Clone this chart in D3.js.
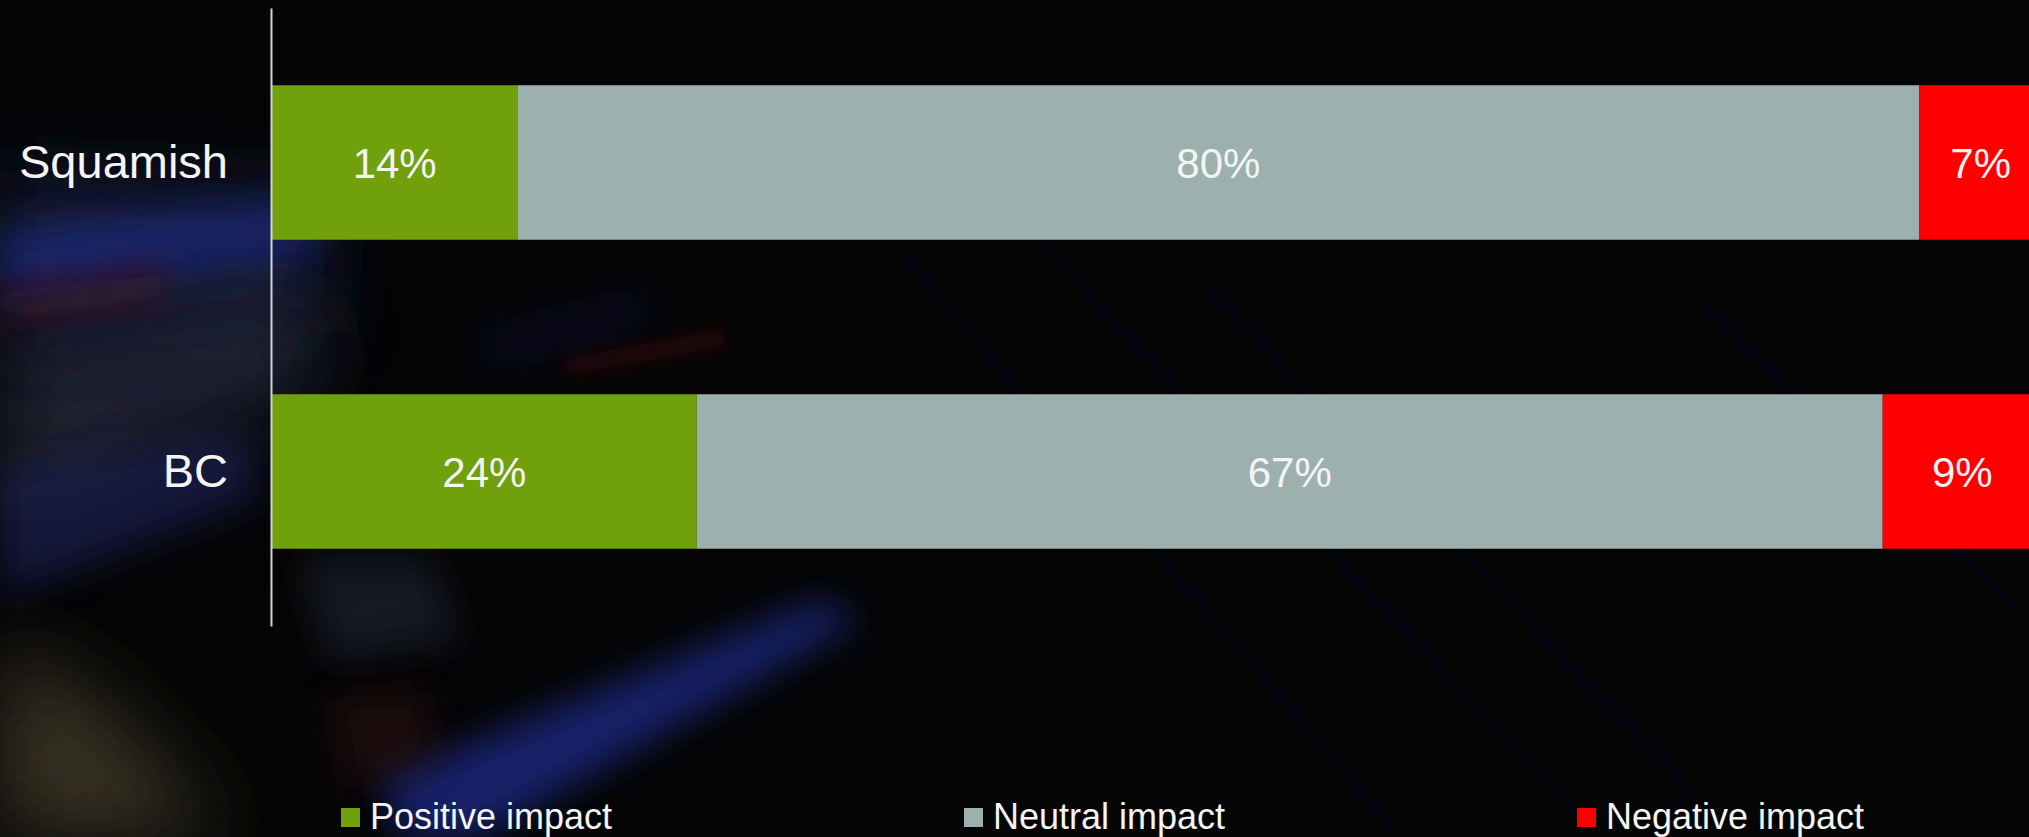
<!DOCTYPE html>
<html>
<head>
<meta charset="utf-8">
<script src="https://cdn.jsdelivr.net/npm/d3@7"></script>
<style>
  html, body { margin: 0; padding: 0; background: #050506; overflow: hidden; }
  svg { display: block; }
  text { font-family: "Liberation Sans", Arial, sans-serif; }
</style>
</head>
<body>
<svg id="chart" width="2029" height="837"></svg>
<script>
// ---- data ----
const categories = ["Squamish", "BC"];
const seriesNames = ["Positive impact", "Neutral impact", "Negative impact"];
const positiveImpact = [14, 24];
const neutralImpact = [80, 67];
const negativeImpact = [7, 9];
const seriesColors = ["#70a00b", "#9cb0ae", "#ff0000"];

// ---- layout ----
const W = 2029, H = 837;
const svg = d3.select("#chart");
const defs = svg.append("defs");
[["blur40", 40], ["blur18", 18], ["blur8", 8]].forEach(([id, s]) => {
  defs.append("filter").attr("id", id).attr("x", "-50%").attr("y", "-50%").attr("width", "200%").attr("height", "200%")
    .append("feGaussianBlur").attr("stdDeviation", s);
});

// background photo-like haze
svg.append("rect").attr("width", W).attr("height", H).attr("fill", "#050506");
const bg = svg.append("g");
const haze = [
  {pts: [[0,170],[330,190],[320,330],[0,360]], fill: "#141a3a", f: "blur40", o: 0.9},
  {pts: [[0,230],[310,200],[320,250],[0,300]], fill: "#1c2a80", f: "blur18", o: 0.7},
  {pts: [[0,290],[170,270],[160,300],[0,320]], fill: "#5a1010", f: "blur18", o: 0.6},
  {pts: [[0,360],[300,300],[330,380],[0,520]], fill: "#262c3e", f: "blur40", o: 0.8},
  {pts: [[0,470],[250,430],[260,500],[0,600]], fill: "#1a2258", f: "blur18", o: 0.6},
  {pts: [[0,640],[100,700],[230,837],[0,837]], fill: "#3e3828", f: "blur40", o: 0.9},
  {pts: [[300,560],[430,560],[460,640],[330,660]], fill: "#222838", f: "blur18", o: 0.6},
  {pts: [[380,780],[820,600],[860,620],[480,837],[400,837]], fill: "#1d2a8a", f: "blur18", o: 0.75},
  {pts: [[330,700],[420,690],[440,760],[350,790]], fill: "#3a1414", f: "blur18", o: 0.45},
  {pts: [[560,360],[720,330],[730,345],[570,375]], fill: "#4a0c0c", f: "blur8", o: 0.5},
  {pts: [[480,340],[640,300],[650,320],[490,360]], fill: "#141c60", f: "blur18", o: 0.45}
];
bg.selectAll("path").data(haze).join("path")
  .attr("d", d => d3.line()(d.pts) + "Z")
  .attr("fill", d => d.fill)
  .attr("opacity", d => d.o)
  .attr("filter", d => `url(#${d.f})`);

// very faint diagonal streaks on the right
const streaks = [[[900,250],[1400,837]], [[1000,200],[1600,837]], [[1200,280],[1700,800]], [[1700,300],[2029,620]]];
bg.selectAll("line.streak").data(streaks).join("line")
  .attr("class", "streak")
  .attr("x1", d => d[0][0]).attr("y1", d => d[0][1])
  .attr("x2", d => d[1][0]).attr("y2", d => d[1][1])
  .attr("stroke", "#0d0e12").attr("stroke-width", 6).attr("filter", "url(#blur8)");

// ---- scales ----
const x = d3.scaleLinear().domain([0, 1]).range([272, 2042]);
const y = d3.scaleBand().domain(categories).range([8, 626]).paddingInner(0.5).paddingOuter(0.25);

// build rows (100% stacked: each row normalized by its total)
const rows = categories.map((c, i) => ({
  category: c,
  "Positive impact": positiveImpact[i],
  "Neutral impact": neutralImpact[i],
  "Negative impact": negativeImpact[i]
}));
const stacked = d3.stack().keys(seriesNames).offset(d3.stackOffsetExpand)(rows);

const g = svg.append("g");
stacked.forEach((layer, si) => {
  const lg = g.append("g");
  lg.selectAll("rect").data(layer).join("rect")
    .attr("x", d => x(d[0]))
    .attr("y", d => y(d.data.category))
    .attr("width", d => x(d[1]) - x(d[0]))
    .attr("height", y.bandwidth())
    .attr("fill", seriesColors[si]);
  lg.selectAll("text").data(layer).join("text")
    .attr("x", d => (x(d[0]) + x(d[1])) / 2)
    .attr("y", d => y(d.data.category) + y.bandwidth() / 2 + 15)
    .attr("text-anchor", "middle")
    .attr("fill", "#f4f4f4")
    .attr("font-size", 42)
    .text(d => d.data[layer.key] + "%");
});

// ---- axis ----
const yAxis = d3.axisLeft(y).tickSize(0).tickSizeOuter(0).tickPadding(43);
const ax = svg.append("g").attr("transform", "translate(271,0)").call(yAxis);
ax.select(".domain").attr("stroke", "#d4d4d4").attr("stroke-width", 2);
ax.selectAll("text")
  .attr("fill", "#f4f4f4")
  .attr("font-size", 47)
  .attr("font-family", "'Liberation Sans', Arial, sans-serif")
  .attr("dy", null)
  .attr("y", 15);

// ---- legend ----
const legendX = [341, 964, 1577];
const leg = svg.append("g");
const items = leg.selectAll("g").data(seriesNames).join("g")
  .attr("transform", (d, i) => `translate(${legendX[i]},0)`);
items.append("rect")
  .attr("x", 0).attr("y", 808).attr("width", 19).attr("height", 19)
  .attr("fill", (d, i) => seriesColors[i]);
items.append("text")
  .attr("x", 29).attr("y", 829)
  .attr("fill", "#f4f4f4")
  .attr("font-size", 36)
  .text(d => d);
</script>
</body>
</html>
